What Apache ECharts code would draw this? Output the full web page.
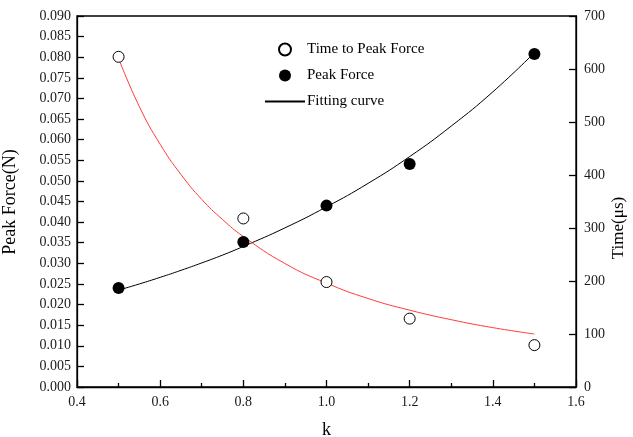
<!DOCTYPE html>
<html>
<head>
<meta charset="utf-8">
<script src="https://cdn.jsdelivr.net/npm/echarts@6/dist/echarts.min.js"></script>
<style>
html,body{margin:0;padding:0;background:#fff;}
#chart{width:633px;height:437px;}
</style>
</head>
<body>
<div id="chart"></div>
<script>
// measured points
var kPoints = [0.5, 0.8, 1.0, 1.2, 1.5];
var peakForce = [0.0240, 0.0352, 0.0440, 0.0541, 0.0808];   // N (left axis)
var timeToPeak = [623, 318, 198, 129, 79];                  // µs (right axis)

// fitting curves
var kFit = [0.5, 0.55, 0.6, 0.65, 0.7, 0.75, 0.8, 0.9, 1.0, 1.1, 1.2, 1.3, 1.4, 1.5];
var forceFit = [0.0235, 0.0250, 0.0266, 0.0283, 0.0301, 0.0320, 0.0341, 0.0386, 0.0437, 0.0494, 0.0559, 0.0633, 0.0716, 0.0811];
var timeFit = [620, 529, 458, 401, 354, 316, 284, 233, 196, 167, 145, 127, 112, 100];

var xTicks = ['0.4','0.6','0.8','1.0','1.2','1.4','1.6'];

function pairs(xs, ys){ return xs.map(function(x,i){ return [x, ys[i]]; }); }

var FONT = '"Liberation Serif", "Times New Roman", serif';
var chart = echarts.init(document.getElementById('chart'), null, {renderer:'canvas'});

var axisLine = {show:true, lineStyle:{color:'#000', width:1.3}};
var option = {
  backgroundColor:'#fff',
  animation:false,
  textStyle:{fontFamily:FONT},
  grid:{left:77, right:57, top:16, bottom:50, containLabel:false, outerBoundsMode:'none',
    show:true, borderColor:'#000', borderWidth:1.3, backgroundColor:'transparent'},
  legend:{
    orient:'vertical', left:259, top:37,
    itemWidth:40, itemHeight:12, itemGap:11,
    textStyle:{fontFamily:FONT, fontSize:15, color:'#000', padding:[0,0,0,-3]},
    data:['Time to Peak Force','Peak Force',
      {name:'Fitting curve', itemStyle:{opacity:0}}]
  },
  xAxis:{
    type:'value', min:0.4, max:1.6, interval:0.2,
    axisLine:axisLine,
    axisTick:{show:true, inside:true, length:7, lineStyle:{color:'#000', width:1.3}},
    minorTick:{show:true, splitNumber:2, length:4, lineStyle:{color:'#000', width:1.3}},
    splitLine:{show:false},
    axisLabel:{fontFamily:FONT, fontSize:14, color:'#1a1a1a', margin:8,
      formatter:function(v){ var s=v.toFixed(1); return xTicks.indexOf(s)>=0 ? s : ''; }},
    name:'k', nameLocation:'middle', nameGap:34,
    nameTextStyle:{fontFamily:FONT, fontSize:18, color:'#000'}
  },
  yAxis:[{
    type:'value', min:0, max:0.09, interval:0.005, position:'left',
    axisLine:axisLine,
    axisTick:{show:true, inside:true, length:7, lineStyle:{color:'#000', width:1.3}},
    splitLine:{show:false},
    axisLabel:{fontFamily:FONT, fontSize:14, color:'#1a1a1a', margin:6,
      formatter:function(v){ return v.toFixed(3); }}
  },{
    type:'value', min:0, max:700, interval:100, position:'right',
    axisLine:axisLine,
    axisTick:{show:true, inside:true, length:7, lineStyle:{color:'#000', width:1.3}},
    splitLine:{show:false},
    axisLabel:{fontFamily:FONT, fontSize:14, color:'#1a1a1a', margin:8}
  }],
  graphic:[
    {type:'text', x:10, y:202, rotation:Math.PI/2,
      style:{text:'Peak Force(N)', font:'18px '+FONT, fill:'#000', align:'center', verticalAlign:'middle'}},
    {type:'text', x:619, y:228, rotation:Math.PI/2,
      style:{text:'Time(\u03bcs)', font:'17px '+FONT, fill:'#000', align:'center', verticalAlign:'middle'}}
  ],
  series:[
    {name:'Fitting curve', type:'line', yAxisIndex:0, data:pairs(kFit, forceFit),
      smooth:true, symbol:'none', lineStyle:{color:'#000', width:1}, itemStyle:{color:'#000'}, z:2},
    {name:'Time fit', type:'line', yAxisIndex:1, data:pairs(kFit, timeFit),
      smooth:true, symbol:'none', lineStyle:{color:'#ff3b3b', width:1}, itemStyle:{color:'#ff3b3b'}, z:2},
    {name:'Time to Peak Force', type:'scatter', yAxisIndex:1, data:pairs(kPoints, timeToPeak),
      symbol:'circle', symbolSize:11,
      itemStyle:{color:'#fff', borderColor:'#000', borderWidth:1, opacity:1}, z:3},
    {name:'Peak Force', type:'scatter', yAxisIndex:0, data:pairs(kPoints, peakForce),
      symbol:'circle', symbolSize:12, itemStyle:{color:'#000', opacity:1}, z:4}
  ]
};
chart.setOption(option);
</script>
</body>
</html>
